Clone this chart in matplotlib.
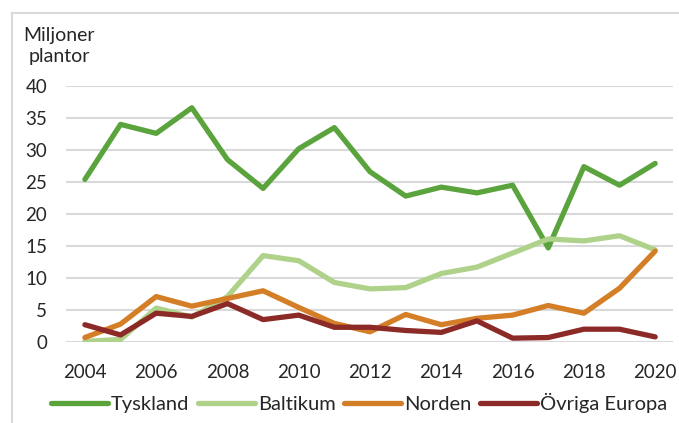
import numpy as np
import matplotlib
matplotlib.use("Agg")
import matplotlib.pyplot as plt
from matplotlib.lines import Line2D

plt.rcParams['font.family'] = ['Lato', 'DejaVu Sans']

# Data (miljoner plantor)
years = list(range(2004, 2021))
tyskland = [25.4, 34.0, 32.6, 36.6, 28.5, 24.0, 30.2, 33.5, 26.6, 22.8,
            24.2, 23.3, 24.5, 14.7, 27.4, 24.5, 27.9]
baltikum = [0.1, 0.4, 5.3, 3.9, 7.1, 13.5, 12.7, 9.3, 8.3, 8.5,
            10.7, 11.7, 13.9, 16.1, 15.8, 16.6, 14.4]
norden = [0.7, 2.8, 7.1, 5.6, 6.8, 8.0, 5.4, 2.9, 1.6, 4.3,
          2.7, 3.7, 4.2, 5.7, 4.5, 8.4, 14.2]
ovriga = [2.7, 1.1, 4.5, 4.0, 6.0, 3.5, 4.2, 2.3, 2.3, 1.8,
          1.5, 3.3, 0.6, 0.7, 2.0, 2.0, 0.8]

series_names = ['Tyskland', 'Baltikum', 'Norden', 'Övriga Europa']
series_colors = ['#5BA43D', '#AFD28A', '#D47E27', '#8C2A27']
yticks = [0, 5, 10, 15, 20, 25, 30, 35, 40]
xticks = list(range(2004, 2021, 2))

W, H = 679, 423
fig = plt.figure(figsize=(W / 100, H / 100), dpi=100)
ax = fig.add_axes([66 / W, 1 - 342 / H, (673 - 66) / W, (342 - 86) / H])

for vals, name, col in zip([tyskland, baltikum, norden, ovriga], series_names, series_colors):
    ax.plot(years, vals, color=col, lw=3.8, label=name, solid_joinstyle='round',
            solid_capstyle='round')

ax.set_xlim(2003.47, 2020.5)
ax.set_ylim(0, 40)
ax.set_yticks(yticks)
ax.set_xticks(xticks)
ax.set_xticklabels([str(x) for x in xticks])
ax.grid(axis='y', color='#D9D9D9', lw=1.5)
ax.set_axisbelow(True)
for s in ax.spines.values():
    s.set_visible(False)
ax.tick_params(axis='both', length=0, labelsize=13.5, colors='#262626')
ax.tick_params(axis='y', pad=13.5)
ax.tick_params(axis='x', pad=16)

# axis title
fig.text(59 / W, 1 - 46 / H, 'Miljoner\nplantor', ha='center', va='center',
         fontsize=14, color='#262626', linespacing=1.25)

leg = fig.legend(loc='center', bbox_to_anchor=(359 / W, 1 - 403 / H), ncol=4,
                 frameon=False, fontsize=14.5, handlelength=2.85, handletextpad=0.15,
                 columnspacing=0.4, borderaxespad=0, borderpad=0)
for t in leg.get_texts():
    t.set_color('#262626')

# chart border (cut off at right and bottom)
fig.add_artist(Line2D([12 / W, 1], [1 - 13 / H, 1 - 13 / H], color='#D9D9D9', lw=1.5))
fig.add_artist(Line2D([12 / W, 12 / W], [0, 1 - 13 / H], color='#D9D9D9', lw=1.5))

# clipped title remnant above
fig.text(214 / W, 1 + 7 / H, 'g', ha='center', va='baseline', fontsize=22,
         fontweight='bold', color='black')

fig.savefig('out.png', dpi=100)
